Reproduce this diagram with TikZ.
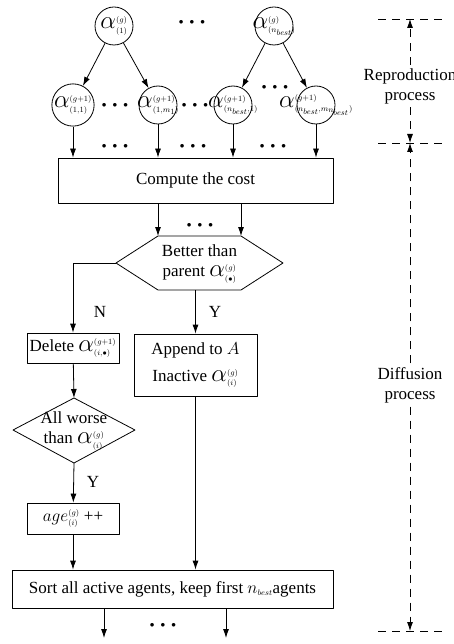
\documentclass[tikz,border=0pt]{standalone}
\usepackage{fontspec}
\setmainfont{Liberation Serif}
\usetikzlibrary{arrows.meta}
\newcommand{\al}[2]{\mbox{\fontsize{23}{23}\selectfont$\alpha$}^{\scriptscriptstyle(#1)}_{\scriptscriptstyle(#2)}}
\newcommand{\nb}{n_{\scriptscriptstyle best}}
\begin{document}
\begin{tikzpicture}[x=1pt,y=-1pt,font=\fontsize{17}{20}\selectfont,line width=0.8pt,line join=round,>={Latex[length=9pt,width=6pt]},
agent/.style={circle,draw,minimum size=38pt,inner sep=0pt},
proc/.style={draw,rectangle,inner sep=0pt},
dots/.style={inner sep=0pt,font=\fontsize{9}{9}\selectfont},
span/.style={dash pattern=on 8pt off 6pt}]
\useasboundingbox (0,0) rectangle (454,644);
\node[agent] (p1) at (114,26) {$\al{g}{1}$};
\node[agent] (pn) at (274,26) {\makebox[30pt]{$\al{g}{\nb}$}};
\node[agent] (c11) at (73,105) {$\al{g+1}{1,1}$};
\node[agent] (c1m) at (158,105) {\makebox[30pt]{$\al{g+1}{1,m_1}$}};
\node[agent] (cn1) at (233,105) {\makebox[30pt]{$\al{g+1}{\nb,1}$}};
\node[agent] (cnm) at (316,105) {\makebox[30pt]{$\al{g+1}{\nb,m_{\nb}}$}};
\foreach \a/\b in {p1/c11,p1/c1m,pn/cn1,pn/cnm}\draw[->] (\a) -- (\b);
\node[proc,minimum width=275pt,minimum height=45pt] (cost) at (195.5,180.5) {Compute the cost};
\foreach \c in {c11,c1m,cn1,cnm}\draw[->] (\c) -- (\c |- cost.north);
\foreach \x/\y [count=\i] in {192/22,115/105,195/105,275/87,115/146,193/146,273/146,200/225,163/625}
  \node[dots] (dots\i) at (\x,\y) {$\bullet\mkern8mu\bullet\mkern8mu\bullet$};
\node[align=center,inner sep=0pt] (better) at (199.5,264) {Better than\\parent $\al{g}{\bullet}$};
\coordinate (hexL) at (116,263);
\coordinate (hexTL) at (158,236);
\coordinate (hexTR) at (241,236);
\coordinate (hexR) at (283,263);
\coordinate (hexBR) at (241,290);
\coordinate (hexBL) at (158,290);
\draw (hexL) -- (hexTL) -- (hexTR) -- (hexR) -- (hexBR) -- (hexBL) -- cycle;
\draw[->] (hexTL |- cost.south) -- (hexTL);
\draw[->] (hexTR |- cost.south) -- (hexTR);
\node[proc,minimum width=92pt,minimum height=30pt] (del) at (73,348) {Delete $\al{g+1}{i,\bullet}$};
\node[proc,minimum width=123pt,minimum height=62pt,align=center] (app) at (195.5,365) {Append to $A$\\[7pt]Inactive $\al{g}{i}$};
\draw[->] (hexL) -| (del.north);
\draw[->] (app.north |- hexBL) -- (app.north);
\node (no) at (100,312) {N};
\node (yes1) at (215,312) {Y};
\node[align=center,inner sep=0pt] (worse) at (74,431) {All worse\\than $\al{g}{i}$};
\coordinate (wL) at (13,430);
\coordinate (wT) at (74,398);
\coordinate (wR) at (135,430);
\coordinate (wB) at (74,463);
\draw (wL) -- (wT) -- (wR) -- (wB) -- cycle;
\draw[->] (del) -- (wT);
\node[proc,minimum width=92pt,minimum height=31pt] (age) at (73,518.5) {$age^{\scriptscriptstyle(g)}_{\scriptscriptstyle(i)}$ ++};
\draw[->] (wB) -- (age);
\node (yes2) at (93,482) {Y};
\node[proc,minimum width=321pt,minimum height=38pt] (sort) at (172.5,589) {Sort all active agents, keep first $\nb$agents};
\draw[->] (age) -- (age |- sort.north);
\draw[->] (app) -- (app |- sort.north);
\coordinate (out1) at (104,638);
\coordinate (out2) at (226,638);
\draw[->] (out1 |- sort.south) -- (out1);
\draw[->] (out2 |- sort.south) -- (out2);
\coordinate (r0) at (410,19);
\coordinate (r1) at (410,143);
\coordinate (r2) at (410,631);
\foreach \r in {r0,r1,r2}\draw[span] ([xshift=-32pt]\r) -- ([xshift=32pt]\r);
\node[align=center] (repro) at (410,86) {Reproduction\\process};
\node[align=center] (diff) at (410,385) {Diffusion\\process};
\draw[span,->] (repro) -- (r0);
\draw[span,->] (repro) -- (r1);
\draw[span,->] (diff) -- (r1);
\draw[span,->] (diff) -- (r2);
\end{tikzpicture}
\end{document}
